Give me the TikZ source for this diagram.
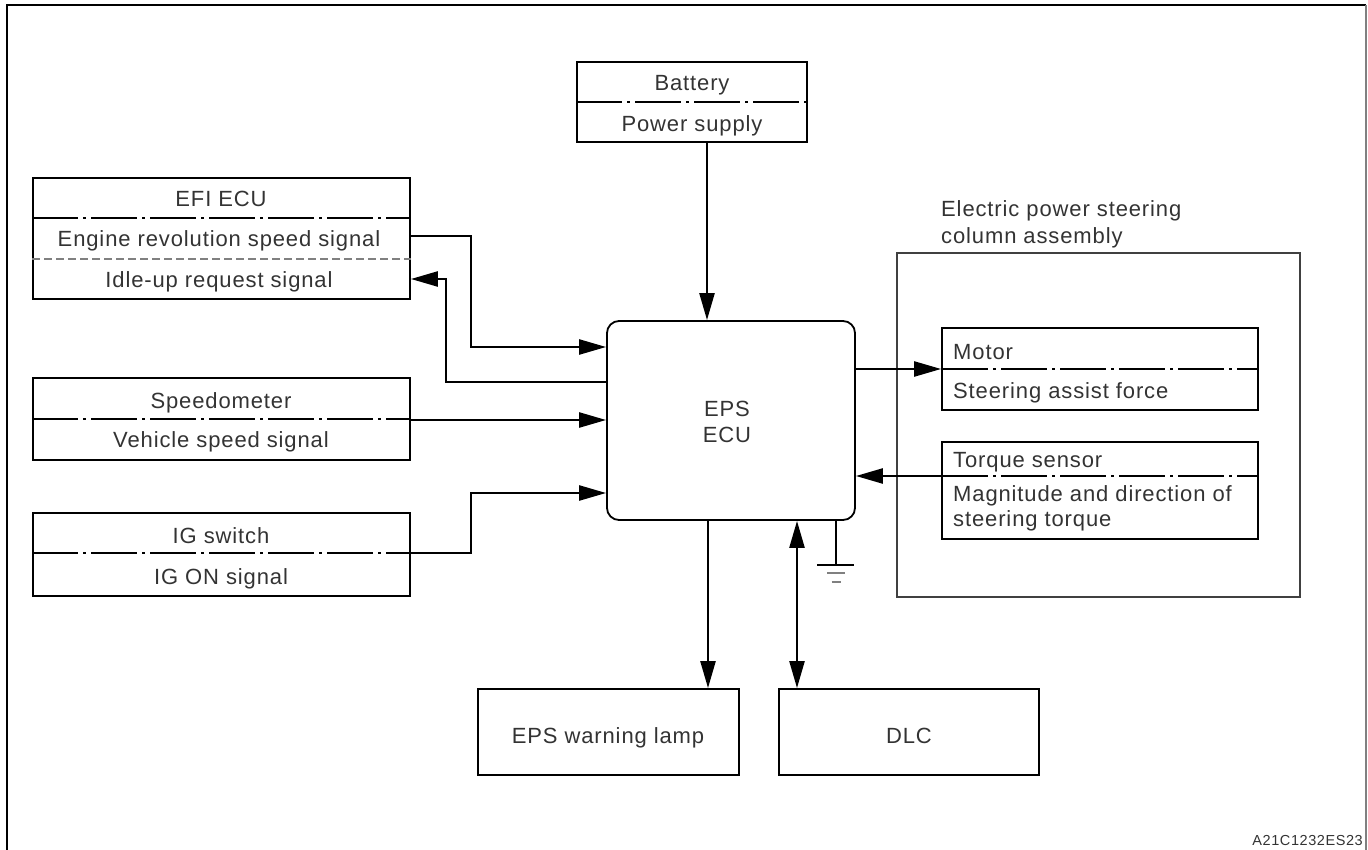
\documentclass[tikz,border=0pt]{standalone}
\usepackage{fontspec}
\setmainfont{Liberation Sans}[LetterSpace=4]
\usetikzlibrary{arrows.meta}
\definecolor{txt}{HTML}{333333}
\tikzset{
  x=1pt, y=-1pt,
  box/.style={draw=black, line width=1.8pt, rectangle, inner sep=0pt},
  lbl/.style={text=txt, inner sep=0pt, anchor=base, font=\fontsize{22}{26}\selectfont},
  lbll/.style={lbl, anchor=base west},
  dd/.style={line width=1.3pt, dash pattern=on 46pt off 5pt on 3pt off 5pt},
  dsh/.style={line width=1.3pt, gray, dash pattern=on 8pt off 4pt},
  wire/.style={line width=2.4pt},
  arr/.style={wire, -{Triangle[length=27pt,width=15pt]}},
  darr/.style={wire, {Triangle[length=27pt,width=15pt]}-{Triangle[length=27pt,width=15pt]}},
}
\begin{document}
\begin{tikzpicture}
\useasboundingbox (0,0) rectangle (1368,850);
% frame
\draw[line width=1.8pt] (7,850) -- (7,5) -- (1366,5);
\draw[line width=1.4pt, gray] (1366,5) -- (1366,850);

% boxes
\node[box, minimum width=230pt, minimum height=80pt] (battery) at (692,102) {};
\node[box, minimum width=377pt, minimum height=121pt] (efi) at (221.5,238.5) {};
\node[box, minimum width=377pt, minimum height=82pt] (speedo) at (221.5,419) {};
\node[box, minimum width=377pt, minimum height=83pt] (ig) at (221.5,554.5) {};
\node[box, rounded corners=12pt, minimum width=248pt, minimum height=199pt] (ecu) at (731,420.5) {};
\node[draw=black!75, line width=1.3pt, rectangle, minimum width=403pt, minimum height=344pt] (column) at (1098.5,425) {};
\node[box, minimum width=316pt, minimum height=82pt] (motor) at (1100,369) {};
\node[box, minimum width=316pt, minimum height=97pt] (torque) at (1100,490.5) {};
\node[box, minimum width=261pt, minimum height=86pt] (lamp) at (608.5,732) {};
\node[box, minimum width=260pt, minimum height=86pt] (dlc) at (909,732) {};

% dividers
\draw[dd] (battery.west |- 0,102) -- (battery.east |- 0,102);
\draw[dd] (efi.west |- 0,218) -- (efi.east |- 0,218);
\draw[dsh] (efi.west |- 0,259) -- (efi.east |- 0,259);
\draw[dd] (speedo.west) -- (speedo.east);
\draw[dd] (ig.west |- 0,553) -- (ig.east |- 0,553);
\draw[dd, dash phase=-60pt] (motor.west) -- (motor.east);
\draw[dd, dash phase=-60pt] (torque.west |- 0,476) -- (torque.east |- 0,476);

% texts
\node[lbl] (tbat) at (692,91) {Battery};
\node[lbl] (tpow) at (692,132) {Power supply};
\node[lbl] (tefi) at (221,207) {EFI ECU};
\node[lbl] (teng) at (219,247) {Engine revolution speed signal};
\node[lbl] (tidl) at (219,288) {Idle-up request signal};
\node[lbl] (tspd) at (221,408) {Speedometer};
\node[lbl] (tveh) at (221,447) {Vehicle speed signal};
\node[lbl] (tigs) at (221,543) {IG switch};
\node[lbl] (tigo) at (221,584) {IG ON signal};
\node[lbl] (teps) at (727,416) {EPS};
\node[lbl] (tecu) at (727,442) {ECU};
\node[lbll] (tel1) at (941,217) {Electric power steering};
\node[lbll] (tel2) at (941,244) {column assembly};
\node[lbll] (tmot) at (953,359) {Motor};
\node[lbll] (tsaf) at (953,398) {Steering assist force};
\node[lbll] (ttor) at (953,467) {Torque sensor};
\node[lbll] (tmag) at (953,501) {Magnitude and direction of};
\node[lbll] (tstq) at (953,526) {steering torque};
\node[lbl] (tlamp) at (608,743) {EPS warning lamp};
\node[lbl] (tdlc) at (909,743) {DLC};
\node[text=txt, inner sep=0pt, anchor=base east, font=\fontsize{14.5}{16}\selectfont] (code) at (1363,845) {A21C1232ES23};

% connectors
\draw[arr] (battery.south -| 707,0) -- (ecu.north -| 707,0);
\draw[arr] (efi.east |- 0,236) -| (471,347) -- (ecu.west |- 0,347);
\draw[arr] (ecu.west |- 0,382) -| (446,279) -- (efi.east |- 0,279);
\draw[arr] (speedo.east |- 0,420) -- (ecu.west |- 0,420);
\draw[arr] (ig.east |- 0,553) -| (471,493) -- (ecu.west |- 0,493);
\draw[arr] (ecu.east |- motor.west) -- (motor.west);
\draw[arr] (torque.west |- 0,476) -- (ecu.east |- 0,476);
\draw[arr] (ecu.south -| 708,0) -- (lamp.north -| 708,0);
\draw[darr] (ecu.south -| 797,0) -- (dlc.north -| 797,0);

% ground
\coordinate (gnd) at (836,565);
\draw[wire] (ecu.south -| gnd) -- (gnd);
\draw[wire] ([xshift=-19pt]gnd) -- ([xshift=18pt]gnd);
\draw[line width=1.3pt, gray] ([xshift=-9pt,yshift=-8pt]gnd) -- ([xshift=9pt,yshift=-8pt]gnd);
\draw[line width=1.3pt, gray] ([xshift=-4.5pt,yshift=-17pt]gnd) -- ([xshift=4.5pt,yshift=-17pt]gnd);
\end{tikzpicture}
\end{document}
